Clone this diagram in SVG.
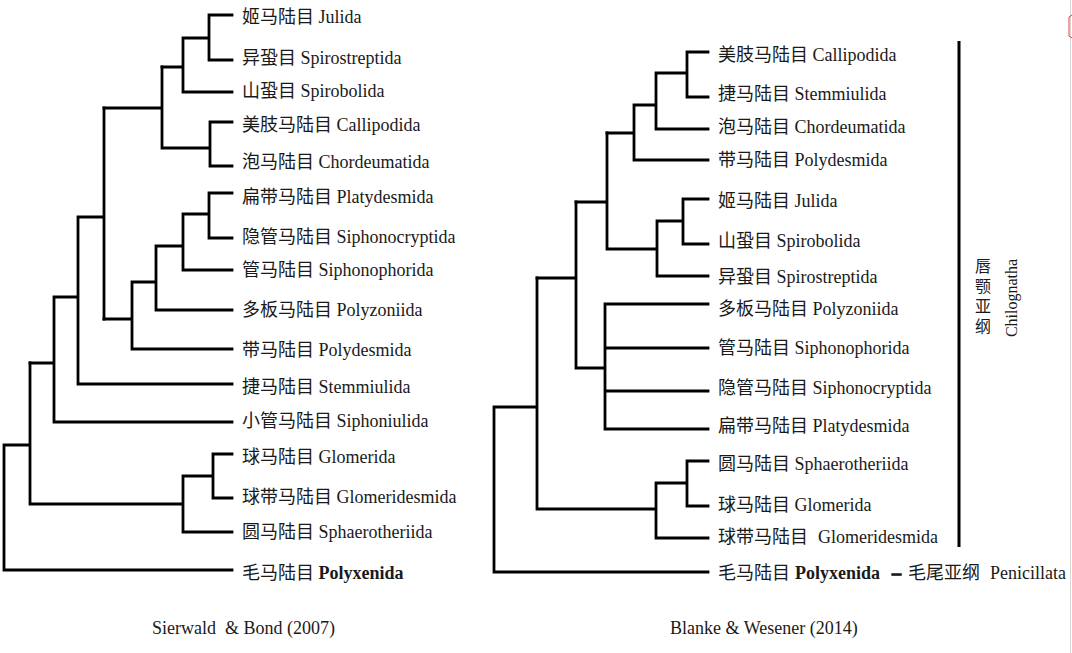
<svg xmlns="http://www.w3.org/2000/svg" width="1072" height="653" viewBox="0 0 1072 653">
<style>
.ln{fill:none;stroke:#000;stroke-width:2.8;stroke-linecap:square;stroke-linejoin:miter}
.lb{font-family:"Liberation Serif","Noto Sans CJK SC",serif;font-size:18px;fill:#1a1a1a}
.b{font-weight:bold}
.cap{font-family:"Liberation Serif",serif;font-size:18px;fill:#1a1a1a}
.sm{font-family:"Liberation Serif","Noto Sans CJK SC",serif;font-size:16px;fill:#1a1a1a}
</style>
<rect width="1072" height="653" fill="#fff"/>
<g id="connectors">
<path class="ln" d="M209 15H232M209 15V60H232M183 38H209M183 38V92H232M162 67H183"/>
<path class="ln" d="M210 122H232M210 122V166H232M162 148H210M162 67V148M104 108H162"/>
<path class="ln" d="M209 193H232M209 193V238H232M183 214H209M183 214V270H232M156 246H183M156 246V310H232M132 282H156M132 282V349H232M104 319H132"/>
<path class="ln" d="M104 108V319M78 217H104M78 217V384H232M54 297H78M54 297V422H232M30 363H54"/>
<path class="ln" d="M213 454H232M213 454V498H232M183 476H213M183 476V532H232M30 504H183M30 363V504M4 445H30M4 445V570H232"/>
<path class="ln" d="M687 52H708M687 52V97H708M656 73H687M656 73V129H708M634 105H656M634 105V160H708M607 133H634"/>
<path class="ln" d="M683 199H708M683 199V244H708M657 221H683M657 221V276H708M607 249H657M607 133V249M576 202H607"/>
<path class="ln" d="M605 304H708M605 348H708M605 391H708M605 429H708M605 304V429M576 368H605M576 202V368M537 278H576"/>
<path class="ln" d="M687 461H708M687 461V506H708M656 483H687M656 483V538H708M537 509H656M537 278V509M494 407H537M494 407V572H708"/>
<line x1="959" y1="41" x2="959" y2="547" stroke="#000" stroke-width="3"/>
</g>
<g id="left-labels">
<g id="L-Julida"><text class="lb" x="242" y="23">姬马陆目 Julida</text></g>
<g id="L-Spirostreptida"><text class="lb" x="242" y="64">异蛩目 Spirostreptida</text></g>
<g id="L-Spirobolida"><text class="lb" x="242" y="97">山蛩目 Spirobolida</text></g>
<g id="L-Callipodida"><text class="lb" x="242" y="131">美肢马陆目 Callipodida</text></g>
<g id="L-Chordeumatida"><text class="lb" x="242" y="168">泡马陆目 Chordeumatida</text></g>
<g id="L-Platydesmida"><text class="lb" x="242" y="203">扁带马陆目 Platydesmida</text></g>
<g id="L-Siphonocryptida"><text class="lb" x="242" y="243">隐管马陆目 Siphonocryptida</text></g>
<g id="L-Siphonophorida"><text class="lb" x="242" y="276">管马陆目 Siphonophorida</text></g>
<g id="L-Polyzoniida"><text class="lb" x="242" y="316">多板马陆目 Polyzoniida</text></g>
<g id="L-Polydesmida"><text class="lb" x="242" y="356">带马陆目 Polydesmida</text></g>
<g id="L-Stemmiulida"><text class="lb" x="242" y="393">捷马陆目 Stemmiulida</text></g>
<g id="L-Siphoniulida"><text class="lb" x="242" y="427">小管马陆目 Siphoniulida</text></g>
<g id="L-Glomerida"><text class="lb" x="242" y="463">球马陆目 Glomerida</text></g>
<g id="L-Glomeridesmida"><text class="lb" x="242" y="503">球带马陆目 Glomeridesmida</text></g>
<g id="L-Sphaerotheriida"><text class="lb" x="242" y="538">圆马陆目 Sphaerotheriida</text></g>
<g id="L-Polyxenida"><text class="lb" x="242" y="579">毛马陆目 <tspan class="b">Polyxenida</tspan></text></g>
</g>
<g id="right-labels">
<g id="R-Callipodida"><text class="lb" x="718" y="61">美肢马陆目 Callipodida</text></g>
<g id="R-Stemmiulida"><text class="lb" x="718" y="100">捷马陆目 Stemmiulida</text></g>
<g id="R-Chordeumatida"><text class="lb" x="718" y="133">泡马陆目 Chordeumatida</text></g>
<g id="R-Polydesmida"><text class="lb" x="718" y="166">带马陆目 Polydesmida</text></g>
<g id="R-Julida"><text class="lb" x="718" y="207">姬马陆目 Julida</text></g>
<g id="R-Spirobolida"><text class="lb" x="718" y="247">山蛩目 Spirobolida</text></g>
<g id="R-Spirostreptida"><text class="lb" x="718" y="283">异蛩目 Spirostreptida</text></g>
<g id="R-Polyzoniida"><text class="lb" x="718" y="315">多板马陆目 Polyzoniida</text></g>
<g id="R-Siphonophorida"><text class="lb" x="718" y="354">管马陆目 Siphonophorida</text></g>
<g id="R-Siphonocryptida"><text class="lb" x="718" y="394">隐管马陆目 Siphonocryptida</text></g>
<g id="R-Platydesmida"><text class="lb" x="718" y="432">扁带马陆目 Platydesmida</text></g>
<g id="R-Sphaerotheriida"><text class="lb" x="718" y="470">圆马陆目 Sphaerotheriida</text></g>
<g id="R-Glomerida"><text class="lb" x="718" y="511">球马陆目 Glomerida</text></g>
<g id="R-Glomeridesmida"><text class="lb" x="718" y="543">球带马陆目<tspan x="818">Glomeridesmida</tspan></text></g>
<g id="R-Polyxenida"><text class="lb" x="718" y="579">毛马陆目 <tspan class="b" x="795">Polyxenida</tspan><tspan class="b" x="892" stroke="#1a1a1a" stroke-width="1.2">–</tspan><tspan x="908">毛尾亚纲</tspan><tspan x="990">Penicillata</tspan></text></g>
</g>
<g id="chilognatha">
<text class="sm" x="983" y="272" text-anchor="middle">唇</text>
<text class="sm" x="983" y="292" text-anchor="middle">颚</text>
<text class="sm" x="983" y="312" text-anchor="middle">亚</text>
<text class="sm" x="983" y="332" text-anchor="middle">纲</text>
<text class="sm" transform="translate(1017,298) rotate(-90)" text-anchor="middle" font-size="16.5">Chilognatha</text>
</g>
<g id="captions">
<text class="cap" x="152" y="634" xml:space="preserve">Sierwald  &amp; Bond (2007)</text>
<text class="cap" x="670" y="634">Blanke &amp; Wesener (2014)</text>
</g>
<g id="edge">
<line x1="1070.5" y1="0" x2="1070.5" y2="653" stroke="#d6d6d6" stroke-width="1"/>
<path d="M1072 15L1069 17V36L1072 38" fill="none" stroke="#d44" stroke-width="1"/>
</g>
</svg>
